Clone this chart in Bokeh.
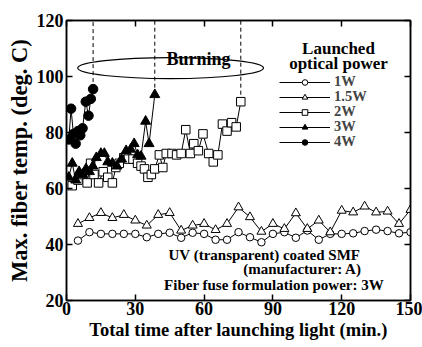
from bokeh.plotting import figure
from bokeh.models import (Range1d, LinearAxis, FixedTicker, Label, Legend, LegendItem)
from bokeh.embed import file_html
from bokeh.resources import INLINE

# ---------------- data ----------------
t_5min = [5, 10, 15, 20, 25, 30, 35, 40, 45, 50, 55, 60, 65, 70, 75,
          80, 85, 90, 95, 100, 105, 110, 115, 120, 125, 130, 135, 140, 145, 150]
temp_1w = [41.4, 44.4, 43.8, 43.8, 43.8, 43.8, 42.6, 43.8, 44.2, 42.4, 44.2, 43.8, 41.7, 41.7, 44.4,
           42.6, 40.8, 43.8, 44.4, 42.4, 45.0, 41.7, 43.8, 43.8, 44.0, 44.8, 45.3, 44.8, 44.0, 44.4]
temp_15w = [47.4, 49.5, 51.3, 49.5, 50.6, 48.6, 46.8, 50.6, 51.3, 45.0, 46.8, 47.4, 45.2, 47.4, 53.3,
            49.8, 44.6, 47.4, 45.6, 51.2, 45.6, 48.6, 44.4, 52.1, 51.5, 53.6, 51.5, 51.8, 47.4, 52.4]

t_2w = [2.5, 5, 7, 9, 10.5, 12, 14, 16, 18, 20, 21.5, 23, 25, 27, 29, 31, 32.5, 34, 35.5, 37,
        38.5, 40.5, 42, 43.5, 46, 48, 50, 52, 54, 55.5, 57.5, 59.5, 62, 64, 66, 68, 70, 72, 74, 76]
temp_2w = [61, 63, 65, 62, 69, 65, 62, 66, 64, 62, 67.5, 69, 71, 70.5, 70.5, 69, 68, 67, 64, 65,
           67, 72, 67.5, 72.5, 72.5, 72, 72.5, 81, 72.5, 76, 73.5, 79.5, 72.5, 69.5, 72, 83, 80.5, 83.5, 82, 91]

t_3w = [1, 2.5, 4, 5.5, 7, 8.5, 10, 11.5, 13, 15, 16.5, 18, 20, 22, 24, 26, 28, 29.5, 31, 32.5, 34.5, 36, 38.5]
temp_3w = [64, 69, 63, 66, 65, 67, 66, 68, 71, 72.5, 72.5, 69.5, 69, 68, 70.5, 73.5, 74, 76, 72, 71.5, 84, 76, 93.5]

t_4w = [1, 2, 3, 4, 5, 6, 7, 8.4, 9.6, 10.6, 11.6]
temp_4w = [77.5, 88.5, 79.5, 76, 80.5, 79, 81.5, 91, 86, 92, 95.5]

x_ticks = [0, 30, 60, 90, 120, 150]
y_ticks = [20, 40, 60, 80, 100, 120]
series_labels = ["1W", "1.5W", "2W", "3W", "4W"]

FONT = "Liberation Serif"

p = figure(width=422, height=347, output_backend="svg", toolbar_location=None,
           x_range=Range1d(0, 150), y_range=Range1d(20, 120),
           min_border_left=66, min_border_right=12, min_border_top=20, min_border_bottom=47)
p.background_fill_color = "white"
p.border_fill_color = "white"
p.xgrid.visible = False
p.ygrid.visible = False
p.outline_line_color = "black"
p.outline_line_width = 1.5

def style_axis(ax, show_labels=True):
    ax.axis_line_width = 1.5
    ax.axis_line_color = "black"
    ax.major_tick_in = 6
    ax.major_tick_out = 0
    ax.major_tick_line_width = 1.5
    ax.minor_tick_line_color = None
    ax.major_label_text_font = FONT
    ax.major_label_text_font_style = "bold"
    if show_labels:
        ax.major_label_text_color = "black"
        ax.major_label_text_font_size = "18px"
    else:
        ax.major_label_text_color = None
        ax.major_label_text_font_size = "1px"
        ax.major_label_standoff = 0

p.xaxis.ticker = FixedTicker(ticks=x_ticks)
p.yaxis.ticker = FixedTicker(ticks=y_ticks)
style_axis(p.xaxis[0])
style_axis(p.yaxis[0])
p.xaxis.major_label_standoff = 1
p.yaxis.major_label_standoff = 3
p.xaxis.axis_label = "Total time after launching light (min.)"
p.yaxis.axis_label = "Max. fiber temp. (deg. C)"
for ax in (p.xaxis[0], p.yaxis[0]):
    ax.axis_label_text_font = FONT
    ax.axis_label_text_font_style = "bold"
    ax.axis_label_text_color = "black"
p.xaxis.axis_label_text_font_size = "18.5px"
p.yaxis.axis_label_text_font_size = "22.5px"
p.xaxis.axis_label_standoff = 2
p.yaxis.axis_label_standoff = 2

top_ax = LinearAxis(ticker=FixedTicker(ticks=x_ticks))
right_ax = LinearAxis(ticker=FixedTicker(ticks=y_ticks))
style_axis(top_ax, False)
style_axis(right_ax, False)
p.add_layout(top_ax, "above")
p.add_layout(right_ax, "right")

# dashed "burning" markers from last point up to the top
last_x = [t_4w[-1], t_3w[-1], t_2w[-1]]
last_y = [temp_4w[-1], temp_3w[-1], temp_2w[-1]]
p.segment(x0=last_x, y0=last_y, x1=last_x, y1=[120] * 3,
          line_color="black", line_width=1, line_dash="4 3")

# series
r1l = p.line(t_5min, temp_1w, line_color="black", line_width=1)
r1m = p.scatter(t_5min, temp_1w, marker="circle", size=7.5, fill_color="white",
                line_color="black", line_width=1)
r2l = p.line(t_5min, temp_15w, line_color="black", line_width=1)
r2m = p.scatter(t_5min, temp_15w, marker="triangle", size=9, fill_color="white",
                line_color="black", line_width=1)
r3l = p.line(t_2w, temp_2w, line_color="black", line_width=1)
r3m = p.scatter(t_2w, temp_2w, marker="square", size=8.5, fill_color="white",
                line_color="black", line_width=1)
r4l = p.line(t_3w, temp_3w, line_color="black", line_width=1)
r4m = p.scatter(t_3w, temp_3w, marker="triangle", size=10, fill_color="black",
                line_color="black", line_width=1)
r5l = p.line(t_4w, temp_4w, line_color="black", line_width=1)
r5m = p.scatter(t_4w, temp_4w, marker="circle", size=9.5, fill_color="black",
                line_color="black", line_width=1)

# burning ellipse and label
p.ellipse(x=45.4, y=103, width=81, height=7.5, fill_color=None,
          line_color="black", line_width=1.2)
p.add_layout(Label(x=57.6, y=106.4, text="Burning", text_align="center", text_baseline="middle",
                   text_font=FONT, text_font_style="bold", text_font_size="18px", text_color="black"))

# legend: one single-item legend per row for exact row spacing
renderers = [[r1l, r1m], [r2l, r2m], [r3l, r3m], [r4l, r4m], [r5l, r5m]]
row_bottoms = [210, 195, 180, 165, 150]
for lab, rs, yb in zip(series_labels, renderers, row_bottoms):
    lg = Legend(items=[LegendItem(label=lab, renderers=rs)], location=(213, yb))
    lg.glyph_width = 51
    lg.glyph_height = 14
    lg.label_height = 14
    lg.spacing = 0
    lg.padding = 0
    lg.margin = 0
    lg.label_standoff = 4
    lg.border_line_alpha = 0
    lg.background_fill_alpha = 0
    lg.label_text_font = FONT
    lg.label_text_font_style = "bold"
    lg.label_text_font_size = "14.5px"
    p.add_layout(lg)

for txt, yy in (("Launched", 110), ("optical power", 104.6)):
    p.add_layout(Label(x=118.6, y=yy, text=txt, text_align="center", text_baseline="middle",
                       text_font=FONT, text_font_style="bold", text_font_size="17px",
                       text_color="black"))

for txt, xx, yy in (("UV (transparent) coated SMF", 86.3, 36.1),
                    ("(manufacturer: A)", 102.9, 31.4),
                    ("Fiber fuse formulation power: 3W", 90.5, 25.7)):
    p.add_layout(Label(x=xx, y=yy, text=txt, text_align="center", text_baseline="middle",
                       text_font=FONT, text_font_style="bold", text_font_size="15px",
                       text_color="black"))

open("out.html", "w").write(file_html(p, INLINE))
